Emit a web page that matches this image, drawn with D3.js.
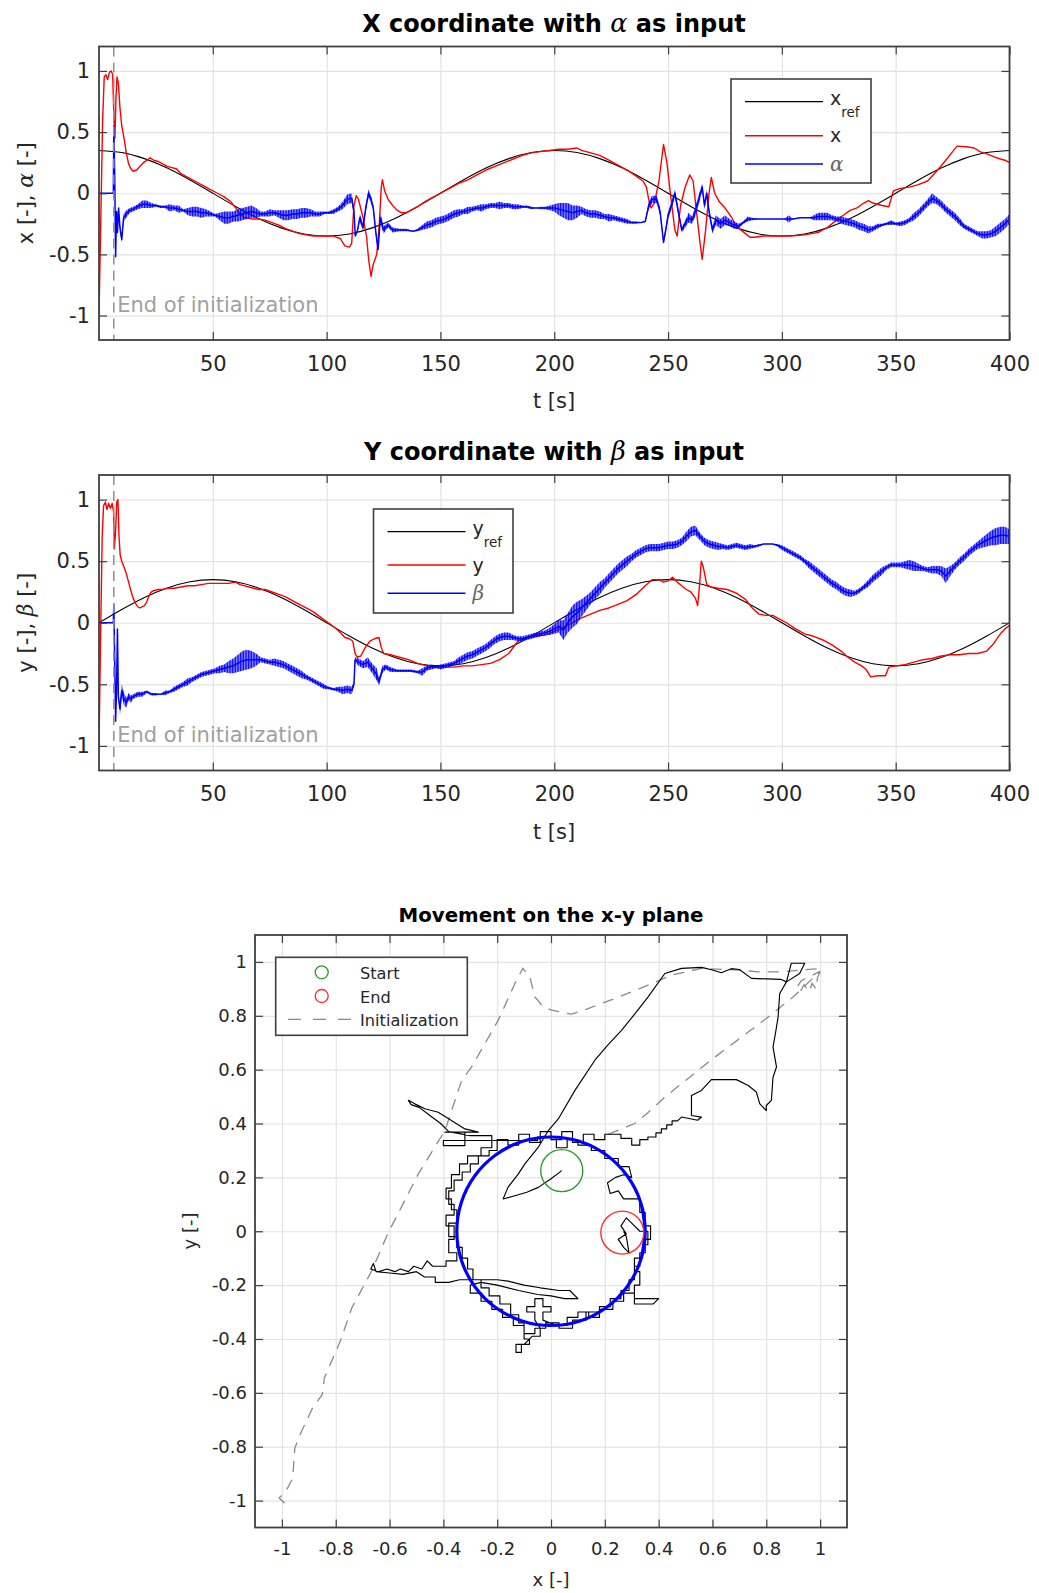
<!DOCTYPE html>
<html>
<head>
<meta charset="utf-8">
<script src="https://cdn.jsdelivr.net/npm/d3@7"></script>
<style>
  body { margin: 0; background: #fff; }
  svg { display: block; }
</style>
</head>
<body>
<script>
// ---------------------------------------------------------------------------
// Data
// ---------------------------------------------------------------------------
const tTicks = [50, 100, 150, 200, 250, 300, 350, 400];
const vTicks = [-1, -0.5, 0, 0.5, 1];
const planeTicks = [-1, -0.8, -0.6, -0.4, -0.2, 0, 0.2, 0.4, 0.6, 0.8, 1];
const tInitEnd = 6.5;

// reference trajectory, sampled every 10 s
const tRef = d3.range(0, 401, 10);
const xRef = [0.35, 0.333, 0.283, 0.206, 0.108, 0, -0.108, -0.206, -0.283, -0.333,
  -0.35, -0.333, -0.283, -0.206, -0.108, 0, 0.108, 0.206, 0.283, 0.333,
  0.35, 0.333, 0.283, 0.206, 0.108, 0, -0.108, -0.206, -0.283, -0.333,
  -0.35, -0.333, -0.283, -0.206, -0.108, 0, 0.108, 0.206, 0.283, 0.333, 0.35];
const yRef = [0, 0.108, 0.206, 0.283, 0.333, 0.35, 0.333, 0.283, 0.206, 0.108,
  0, -0.108, -0.206, -0.283, -0.333, -0.35, -0.333, -0.283, -0.206, -0.108,
  0, 0.108, 0.206, 0.283, 0.333, 0.35, 0.333, 0.283, 0.206, 0.108,
  0, -0.108, -0.206, -0.283, -0.333, -0.35, -0.333, -0.283, -0.206, -0.108, 0];

// measured x position [t, x]
const xMeas = [[0,-1],[0.8,-0.2],[1.6,0.6],[2.3,0.95],[3,0.97],[3.8,0.93],[4.6,0.99],[5.4,1.0],[6,0.97],[6.6,0.6],[7,0.45],[7.5,0.8],[7.9,0.95],[8.5,0.9],[9.2,0.7],[10,0.55],[11,0.45],[12,0.33],[13,0.24],[14,0.2],[15,0.18],[16.5,0.19],[18,0.22],[19.5,0.25],[21,0.27],[22.5,0.29],[24,0.27],[26,0.26],[28,0.24],[30,0.22],[32,0.21],[34,0.2],[36,0.16],[38,0.14],[40,0.12],[43,0.09],[46,0.06],[49,0.03],[52,0.0],[55,-0.03],[58,-0.07],[60,-0.12],[62,-0.17],[64,-0.2],[67,-0.21],[70,-0.21],[73,-0.22],[76,-0.24],[79,-0.26],[82,-0.29],[85,-0.31],[88,-0.33],[91,-0.34],[94,-0.35],[97,-0.35],[100,-0.35],[103,-0.35],[106,-0.37],[108,-0.43],[110,-0.44],[111,-0.41],[112,-0.1],[113,-0.02],[114,-0.05],[116,-0.2],[117.5,-0.35],[118.5,-0.55],[119.5,-0.68],[120.5,-0.58],[122,-0.5],[123,-0.3],[124,0.05],[124.5,0.11],[125.5,0.02],[127,-0.05],[129,-0.1],[131,-0.14],[133,-0.16],[135,-0.16],[137,-0.14],[140,-0.11],[143,-0.07],[146,-0.04],[150,0.0],[154,0.04],[158,0.08],[162,0.11],[166,0.15],[170,0.19],[174,0.22],[178,0.25],[182,0.28],[186,0.31],[190,0.33],[194,0.34],[198,0.35],[202,0.36],[206,0.36],[210,0.37],[212,0.35],[216,0.33],[220,0.31],[224,0.27],[228,0.23],[232,0.19],[236,0.14],[239,0.1],[240.5,0.05],[241.5,-0.05],[242.5,-0.12],[244,-0.08],[246,0.1],[248,0.4],[249.5,0.25],[251,0.0],[253,-0.3],[254,-0.35],[255.5,-0.1],[257.5,0.05],[259.5,0.15],[261,0.1],[262.5,-0.15],[264,-0.4],[265,-0.54],[266.5,-0.3],[268,0.0],[269,0.13],[270.5,0.0],[272.5,-0.07],[275,-0.12],[278,-0.2],[280,-0.27],[282,-0.3],[284,-0.33],[286,-0.36],[288,-0.36],[292,-0.35],[298,-0.35],[304,-0.35],[310,-0.34],[316,-0.32],[320,-0.28],[324,-0.22],[327,-0.18],[330,-0.14],[333,-0.12],[336,-0.08],[338,-0.06],[340,-0.08],[344,-0.1],[347,-0.11],[349,0.02],[352,0.04],[356,0.05],[360,0.07],[364,0.1],[368,0.18],[372,0.27],[375,0.34],[377,0.385],[381,0.38],[384.5,0.37],[387,0.34],[390.4,0.32],[393,0.3],[396,0.28],[398,0.27],[400,0.25]];

// control input alpha [t, value, noise half-width]
const alphaIn = [[0,0,0],[6.3,0,0],[6.5,0.55,0],[6.9,0.15,0],[7.3,-0.52,0],[7.7,-0.15,0],[8.1,-0.32,0],[8.6,-0.12,0],[9.2,-0.28,0.03],[10,-0.38,0.02],[10.8,-0.2,0.03],[12,-0.17,0.03],[13.5,-0.14,0.02],[15,-0.13,0.02],[17,-0.11,0.02],[19,-0.09,0.03],[21,-0.09,0.03],[23,-0.1,0.02],[25,-0.1,0.01],[27,-0.11,0.01],[29,-0.11,0.01],[31,-0.12,0.03],[33,-0.12,0.02],[35,-0.13,0.03],[37,-0.14,0.01],[39,-0.15,0.03],[41,-0.15,0.04],[43,-0.15,0.04],[45,-0.16,0.04],[47,-0.16,0.03],[49,-0.17,0.02],[51,-0.18,0.01],[53,-0.19,0.03],[55,-0.2,0.05],[57,-0.2,0.05],[59,-0.19,0.04],[61,-0.18,0.05],[63,-0.17,0.05],[65,-0.16,0.05],[67,-0.15,0.05],[69,-0.16,0.04],[71,-0.17,0.02],[73,-0.17,0.02],[75,-0.16,0.03],[77,-0.16,0.02],[79,-0.17,0.03],[81,-0.18,0.04],[83,-0.18,0.04],[85,-0.17,0.04],[87,-0.17,0.04],[89,-0.16,0.04],[91,-0.16,0.04],[93,-0.16,0.03],[95,-0.17,0.02],[97,-0.17,0.02],[99,-0.16,0.01],[101,-0.16,0.01],[103,-0.15,0.02],[105,-0.13,0.02],[107,-0.1,0.03],[109,-0.05,0.04],[111,-0.04,0.04],[112,-0.15,0.02],[112.6,-0.35,0],[113.6,-0.3,0.01],[114.6,-0.2,0.03],[116,-0.28,0.03],[117.2,-0.12,0.03],[118.4,0.0,0.03],[119.5,-0.05,0.03],[120.5,-0.12,0.03],[121.6,-0.32,0.03],[122.6,-0.46,0.02],[123.6,-0.2,0.04],[125,-0.3,0.03],[127,-0.26,0.02],[129,-0.3,0.02],[132,-0.3,0.01],[135,-0.3,0.01],[138,-0.31,0],[140,-0.3,0.01],[142,-0.28,0.02],[144,-0.26,0.03],[146,-0.25,0.03],[148,-0.23,0.03],[150,-0.22,0.03],[152,-0.21,0.03],[154,-0.19,0.03],[156,-0.17,0.03],[158,-0.16,0.03],[160,-0.15,0.02],[162,-0.14,0.03],[164,-0.13,0.02],[166,-0.12,0.02],[168,-0.12,0.03],[170,-0.11,0.02],[172,-0.1,0.02],[174,-0.1,0.02],[176,-0.1,0.03],[178,-0.1,0.02],[180,-0.1,0.02],[182,-0.11,0.02],[184,-0.11,0.02],[186,-0.11,0.01],[188,-0.11,0.01],[190,-0.12,0.01],[192,-0.12,0],[194,-0.12,0.01],[196,-0.12,0.01],[198,-0.12,0.02],[200,-0.12,0.03],[202,-0.13,0.05],[204,-0.14,0.06],[206,-0.15,0.07],[208,-0.16,0.06],[210,-0.15,0.05],[212,-0.14,0.03],[214,-0.16,0.03],[216,-0.17,0.03],[218,-0.17,0.03],[220,-0.18,0.03],[222,-0.19,0.02],[224,-0.2,0.03],[226,-0.2,0.02],[228,-0.21,0.02],[230,-0.22,0.02],[232,-0.23,0.02],[234,-0.24,0.01],[236,-0.24,0.01],[238,-0.24,0],[240,-0.23,0.01],[241.5,-0.1,0.03],[243,-0.05,0.03],[245,-0.05,0.03],[246.5,-0.15,0.03],[248,-0.4,0.02],[249,-0.3,0.03],[250,-0.18,0.03],[251.5,-0.1,0.03],[253,0,0.03],[254.5,-0.15,0.03],[256,-0.3,0.02],[257.5,-0.25,0.03],[259,-0.2,0.04],[260.5,-0.22,0.03],[262,-0.15,0.04],[263.5,-0.05,0.04],[265,0.05,0.03],[266,-0.1,0.03],[267,0,0.03],[268,-0.15,0.03],[269.5,-0.3,0.03],[271,-0.22,0.04],[273,-0.25,0.04],[275,-0.22,0.04],[277,-0.24,0.03],[279,-0.26,0.03],[281,-0.27,0.02],[283,-0.24,0.01],[285,-0.21,0.02],[287,-0.21,0.01],[290,-0.21,0],[294,-0.21,0],[298,-0.21,0],[301,-0.21,0],[303,-0.21,0.03],[305,-0.21,0],[308,-0.2,0],[312,-0.2,0],[314,-0.2,0.02],[316,-0.19,0.03],[318,-0.19,0.03],[320,-0.19,0.03],[322,-0.2,0.02],[324,-0.21,0.02],[326,-0.22,0.03],[328,-0.23,0.03],[330,-0.24,0.03],[332,-0.25,0.03],[334,-0.27,0.03],[336,-0.28,0.03],[338,-0.3,0.03],[340,-0.29,0.02],[342,-0.27,0.02],[344,-0.26,0.01],[346,-0.25,0.01],[348,-0.24,0.02],[350,-0.25,0.01],[352,-0.25,0.02],[354,-0.24,0.02],[356,-0.22,0.02],[358,-0.19,0.03],[360,-0.16,0.03],[362,-0.12,0.03],[364,-0.08,0.03],[366,-0.04,0.04],[368,-0.06,0.03],[370,-0.09,0.03],[372,-0.13,0.03],[374,-0.16,0.03],[376,-0.19,0.03],[378,-0.23,0.03],[380,-0.27,0.02],[382,-0.29,0.02],[384,-0.31,0.02],[386,-0.33,0.02],[388,-0.34,0.03],[390,-0.34,0.03],[392,-0.33,0.03],[394,-0.31,0.04],[396,-0.28,0.04],[398,-0.25,0.04],[400,-0.21,0.04]];

// measured y position [t, y]
const yMeas = [[0,-1],[0.7,-0.1],[1.4,0.7],[2,0.95],[2.8,0.98],[3.5,0.92],[4.2,0.97],[5,0.93],[5.8,0.97],[6.4,0.9],[6.8,0.6],[7.3,0.75],[7.8,0.98],[8.3,1.0],[8.8,0.7],[9.3,0.55],[10,0.5],[11,0.45],[12,0.4],[13,0.33],[14,0.26],[15,0.2],[16,0.16],[17,0.13],[18,0.12],[19,0.13],[20,0.14],[21,0.17],[22,0.22],[23,0.25],[24,0.26],[26,0.27],[28,0.27],[30,0.28],[33,0.28],[36,0.29],[39,0.3],[42,0.3],[45,0.31],[48,0.32],[51,0.32],[54,0.32],[57,0.32],[60,0.33],[62,0.31],[64,0.3],[66,0.29],[68,0.28],[70,0.27],[73,0.27],[76,0.25],[79,0.23],[82,0.21],[85,0.18],[88,0.15],[91,0.12],[94,0.09],[97,0.05],[100,0.01],[103,-0.03],[106,-0.08],[108,-0.12],[110,-0.13],[111.5,-0.15],[112.5,-0.25],[113.5,-0.28],[115,-0.27],[117,-0.2],[119,-0.15],[121,-0.13],[123,-0.12],[124,-0.2],[125,-0.25],[128,-0.26],[132,-0.28],[136,-0.3],[140,-0.33],[144,-0.35],[148,-0.36],[152,-0.36],[156,-0.36],[160,-0.35],[164,-0.35],[168,-0.34],[172,-0.33],[176,-0.3],[180,-0.25],[184,-0.15],[188,-0.12],[192,-0.11],[196,-0.1],[200,-0.07],[204,-0.04],[208,0.0],[212,0.04],[216,0.07],[220,0.1],[224,0.12],[228,0.15],[232,0.18],[236,0.23],[240,0.3],[243,0.35],[246,0.35],[248,0.33],[250,0.34],[252,0.37],[254,0.33],[256,0.3],[258,0.27],[260,0.25],[262,0.2],[263,0.14],[263.8,0.3],[264.6,0.5],[265.5,0.45],[267,0.31],[269,0.29],[272,0.28],[276,0.27],[280,0.24],[284,0.19],[287,0.12],[290,0.07],[293,0.06],[296,0.06],[299,0.03],[302,0.0],[306,-0.05],[310,-0.09],[314,-0.11],[318,-0.14],[322,-0.18],[326,-0.23],[329,-0.28],[332,-0.32],[335,-0.35],[337,-0.38],[339,-0.44],[342,-0.43],[345.5,-0.43],[347,-0.36],[350,-0.35],[354,-0.34],[358,-0.32],[362,-0.3],[366,-0.29],[370,-0.27],[374,-0.26],[378,-0.26],[382,-0.25],[386,-0.25],[390,-0.23],[393,-0.17],[396,-0.09],[398,-0.05],[400,-0.02]];

// control input beta [t, value, noise half-width]
const betaIn = [[0,0,0],[6.3,0,0],[6.5,0.15,0],[6.9,-0.3,0],[7.3,-0.8,0],[7.7,-0.55,0],[8.1,-0.05,0],[8.5,-0.6,0],[9.2,-0.7,0.05],[10,-0.55,0.05],[11,-0.62,0.05],[12,-0.65,0.04],[13,-0.6,0.03],[14,-0.62,0.03],[15,-0.6,0.02],[17,-0.58,0.02],[19,-0.58,0.02],[21,-0.56,0.01],[23,-0.58,0.01],[25,-0.58,0.01],[27,-0.58,0],[29,-0.57,0.02],[31,-0.56,0.01],[33,-0.54,0.02],[35,-0.52,0.02],[37,-0.5,0.02],[39,-0.48,0.03],[41,-0.46,0.02],[43,-0.44,0.02],[45,-0.42,0.02],[47,-0.41,0.02],[49,-0.4,0.02],[51,-0.39,0.02],[53,-0.38,0.03],[55,-0.37,0.03],[57,-0.36,0.05],[59,-0.35,0.06],[61,-0.33,0.07],[63,-0.31,0.08],[65,-0.3,0.08],[67,-0.3,0.07],[69,-0.3,0.05],[71,-0.3,0.02],[73,-0.31,0.02],[75,-0.32,0.02],[77,-0.32,0.03],[79,-0.33,0.03],[81,-0.34,0.03],[83,-0.36,0.03],[85,-0.38,0.03],[87,-0.4,0.03],[89,-0.42,0.03],[91,-0.44,0.02],[93,-0.46,0.02],[95,-0.48,0.02],[97,-0.5,0.02],[99,-0.52,0.02],[101,-0.53,0.01],[103,-0.54,0.01],[105,-0.54,0.02],[107,-0.55,0.03],[109,-0.54,0.03],[111,-0.55,0.03],[112,-0.5,0.02],[112.5,-0.3,0.02],[114,-0.32,0.03],[116,-0.34,0.03],[118,-0.32,0.04],[120,-0.37,0.04],[122,-0.42,0.05],[123,-0.48,0.03],[124.5,-0.38,0.03],[126,-0.36,0.02],[128,-0.38,0.02],[131,-0.39,0.01],[134,-0.39,0.01],[137,-0.39,0.01],[140,-0.4,0.01],[142,-0.4,0.03],[144,-0.37,0.02],[146,-0.36,0.02],[148,-0.36,0.01],[150,-0.36,0.02],[152,-0.35,0.02],[154,-0.34,0.02],[156,-0.33,0.02],[158,-0.31,0.03],[160,-0.29,0.03],[162,-0.27,0.03],[164,-0.26,0.03],[166,-0.24,0.03],[168,-0.22,0.03],[170,-0.2,0.03],[172,-0.17,0.03],[174,-0.14,0.03],[176,-0.12,0.03],[178,-0.11,0.03],[180,-0.11,0.03],[182,-0.12,0.02],[184,-0.13,0.02],[186,-0.13,0.02],[188,-0.12,0.02],[190,-0.11,0.02],[192,-0.1,0.02],[194,-0.09,0.02],[196,-0.08,0.02],[198,-0.07,0.03],[200,-0.05,0.04],[202,-0.03,0.05],[204,-0.06,0.08],[206,0.0,0.08],[208,0.05,0.09],[210,0.08,0.09],[212,0.12,0.07],[214,0.16,0.06],[216,0.2,0.05],[218,0.24,0.05],[220,0.28,0.05],[222,0.32,0.04],[224,0.36,0.04],[226,0.4,0.04],[228,0.44,0.04],[230,0.47,0.04],[232,0.5,0.04],[234,0.53,0.03],[236,0.56,0.03],[238,0.58,0.03],[240,0.6,0.03],[242,0.61,0.03],[244,0.61,0.03],[246,0.61,0.03],[248,0.62,0.03],[250,0.63,0.03],[252,0.63,0.03],[254,0.64,0.03],[256,0.66,0.03],[258,0.7,0.04],[260,0.74,0.04],[262,0.75,0.04],[264,0.7,0.03],[266,0.66,0.03],[268,0.64,0.03],[270,0.63,0.03],[272,0.62,0.03],[274,0.62,0.02],[276,0.61,0.02],[278,0.62,0.02],[280,0.63,0.02],[282,0.62,0.02],[284,0.61,0.02],[286,0.62,0.02],[288,0.62,0.01],[290,0.63,0.01],[292,0.64,0],[294,0.64,0],[296,0.64,0],[298,0.63,0.01],[300,0.61,0.02],[302,0.59,0.02],[304,0.57,0.02],[306,0.55,0.02],[308,0.53,0.02],[310,0.5,0.02],[312,0.47,0.03],[314,0.44,0.03],[316,0.41,0.03],[318,0.38,0.03],[320,0.35,0.03],[322,0.32,0.03],[324,0.3,0.03],[326,0.27,0.03],[328,0.25,0.03],[330,0.24,0.03],[332,0.24,0.02],[334,0.26,0.02],[336,0.29,0.02],[338,0.32,0.03],[340,0.36,0.03],[342,0.39,0.03],[344,0.42,0.03],[346,0.45,0.02],[348,0.47,0.02],[350,0.47,0.02],[352,0.47,0.02],[354,0.47,0.03],[356,0.47,0.04],[358,0.46,0.04],[360,0.45,0.03],[362,0.44,0.02],[364,0.43,0.02],[366,0.43,0.03],[368,0.43,0.03],[370,0.42,0.04],[372,0.38,0.06],[374,0.42,0.04],[376,0.46,0.03],[378,0.5,0.03],[380,0.53,0.03],[382,0.57,0.03],[384,0.6,0.03],[386,0.63,0.03],[388,0.65,0.04],[390,0.67,0.05],[392,0.69,0.06],[394,0.7,0.07],[396,0.71,0.07],[398,0.71,0.07],[400,0.7,0.06]];

// path on the x-y plane after initialization [x, y]
const pathXY = [[0.04,0.225],[0.0,0.195],[-0.047,0.163],[-0.09,0.145],[-0.134,0.132],[-0.178,0.12],[-0.16,0.163],[-0.122,0.212],[-0.097,0.25],[-0.047,0.312],[-0.01,0.374],[0.027,0.417],[0.089,0.523],[0.163,0.635],[0.21,0.69],[0.262,0.746],[0.31,0.805],[0.361,0.87],[0.423,0.957],[0.485,0.976],[0.56,0.98],[0.6,0.97],[0.633,0.96],[0.67,0.975],[0.7,0.972],[0.745,0.939],[0.8,0.937],[0.856,0.935],[0.875,0.926],[0.893,0.995],[0.943,0.995],[0.924,0.957],[0.875,0.926],[0.85,0.883],[0.844,0.796],[0.835,0.74],[0.825,0.684],[0.838,0.61],[0.825,0.572],[0.819,0.486],[0.8,0.467],[0.8,0.448],[0.776,0.473],[0.763,0.517],[0.733,0.541],[0.689,0.563],[0.596,0.563],[0.559,0.523],[0.522,0.504],[0.522,0.43],[0.559,0.424],[0.545,0.412],[0.485,0.424],[0.47,0.41],[0.45,0.41],[0.45,0.395],[0.43,0.395],[0.43,0.38],[0.41,0.38],[0.41,0.365],[0.39,0.365],[0.39,0.35],[0.36,0.35],[0.36,0.34],[0.33,0.34],[0.33,0.32],[0.3,0.32],[0.3,0.345],[0.26,0.345],[0.26,0.36],[0.2,0.36],[0.2,0.34],[0.16,0.34],[0.16,0.36],[0.12,0.36],[0.12,0.33],[0.08,0.33],[0.08,0.37],[0.04,0.37],[0.04,0.34],[0.0,0.34],[0.0,0.37],[-0.04,0.37],[-0.04,0.33],[-0.08,0.33],[-0.08,0.36],[-0.12,0.36],[-0.12,0.32],[-0.16,0.32],[-0.16,0.34],[-0.2,0.34],[-0.2,0.3],[-0.23,0.3],[-0.23,0.28],[-0.27,0.28],[-0.27,0.25],[-0.3,0.25],[-0.3,0.22],[-0.33,0.22],[-0.33,0.19],[-0.36,0.19],[-0.36,0.15],[-0.38,0.15],[-0.38,0.1],[-0.36,0.1],[-0.36,0.06],[-0.39,0.06],[-0.39,0.02],[-0.36,0.02],[-0.36,-0.03],[-0.38,-0.03],[-0.38,-0.08],[-0.35,-0.08],[-0.35,-0.11],[-0.39,-0.11],[-0.39,-0.13],[-0.44,-0.13],[-0.46,-0.11],[-0.48,-0.14],[-0.51,-0.13],[-0.53,-0.15],[-0.56,-0.14],[-0.58,-0.15],[-0.61,-0.14],[-0.64,-0.15],[-0.67,-0.14],[-0.66,-0.12],[-0.65,-0.15],[-0.6,-0.155],[-0.55,-0.16],[-0.5,-0.15],[-0.47,-0.17],[-0.43,-0.17],[-0.43,-0.19],[-0.38,-0.19],[-0.34,-0.18],[-0.28,-0.18],[-0.2,-0.18],[-0.16,-0.185],[-0.1,-0.2],[-0.04,-0.21],[0.03,-0.22],[0.07,-0.22],[0.1,-0.25],[0.05,-0.25],[0.0,-0.24],[-0.05,-0.235],[-0.12,-0.22],[-0.2,-0.2],[-0.26,-0.19],[-0.3,-0.2],[-0.3,-0.23],[-0.26,-0.23],[-0.26,-0.26],[-0.22,-0.26],[-0.22,-0.29],[-0.18,-0.29],[-0.18,-0.32],[-0.14,-0.32],[-0.14,-0.35],[-0.1,-0.35],[-0.1,-0.38],[-0.06,-0.38],[-0.06,-0.36],[-0.02,-0.36],[-0.02,-0.34],[0.03,-0.34],[0.03,-0.36],[0.08,-0.36],[0.08,-0.33],[0.13,-0.33],[0.13,-0.3],[0.18,-0.3],[0.18,-0.28],[0.22,-0.28],[0.22,-0.25],[0.26,-0.25],[0.26,-0.22],[0.29,-0.22],[0.29,-0.18],[0.31,-0.18],[0.31,-0.13],[0.33,-0.13],[0.33,-0.08],[0.35,-0.08],[0.35,-0.03],[0.37,-0.03],[0.37,0.02],[0.35,0.02],[0.35,0.07],[0.33,0.07],[0.33,0.12],[0.27,0.12],[0.25,0.15],[0.22,0.14],[0.21,0.18],[0.24,0.2],[0.27,0.21],[0.3,0.2],[0.29,0.24],[0.25,0.24],[0.25,0.27],[0.2,0.27],[0.2,0.3],[0.15,0.3],[0.15,0.32],[0.1,0.32],[0.1,0.34],[0.06,0.34],[0.06,0.31],[0.02,0.31],[0.02,0.35],[-0.05,0.35],[-0.05,0.337],[-0.25,0.337],[-0.4,0.337],[-0.4,0.318],[-0.32,0.318],[-0.32,0.368],[-0.394,0.368],[-0.27,0.368],[-0.32,0.38],[-0.37,0.411],[-0.419,0.442],[-0.469,0.455],[-0.506,0.473],[-0.53,0.486],[-0.52,0.47],[-0.49,0.46],[-0.45,0.43],[-0.41,0.4],[-0.38,0.37],[-0.3,0.355],[-0.22,0.355],[-0.22,0.31],[-0.26,0.31],[-0.26,0.28],[-0.31,0.28],[-0.31,0.25],[-0.34,0.25],[-0.34,0.21],[-0.37,0.21],[-0.37,0.16],[-0.39,0.16],[-0.39,0.12],[-0.37,0.12],[-0.37,0.08],[-0.35,0.08],[-0.35,0.03],[-0.38,0.03],[-0.38,-0.02],[-0.35,-0.02],[-0.35,-0.06],[-0.33,-0.06],[-0.33,-0.1],[-0.31,-0.1],[-0.31,-0.14],[-0.29,-0.14],[-0.29,-0.18],[-0.26,-0.18],[-0.26,-0.21],[-0.23,-0.21],[-0.23,-0.24],[-0.19,-0.24],[-0.19,-0.27],[-0.15,-0.27],[-0.15,-0.31],[-0.12,-0.31],[-0.12,-0.34],[-0.1,-0.34],[-0.1,-0.4],[-0.08,-0.4],[-0.08,-0.42],[-0.11,-0.42],[-0.11,-0.45],[-0.13,-0.45],[-0.13,-0.42],[-0.1,-0.42],[-0.07,-0.39],[-0.04,-0.39],[-0.04,-0.36],[-0.06,-0.33],[-0.06,-0.3],[-0.09,-0.3],[-0.09,-0.28],[-0.06,-0.28],[-0.06,-0.25],[-0.03,-0.25],[-0.03,-0.28],[0.0,-0.28],[0.0,-0.3],[-0.03,-0.3],[-0.03,-0.33],[0.02,-0.35],[0.06,-0.35],[0.06,-0.32],[0.1,-0.32],[0.1,-0.3],[0.14,-0.3],[0.14,-0.32],[0.18,-0.32],[0.18,-0.29],[0.23,-0.29],[0.23,-0.26],[0.27,-0.26],[0.27,-0.23],[0.31,-0.23],[0.31,-0.25],[0.4,-0.25],[0.38,-0.27],[0.31,-0.27],[0.31,-0.2],[0.33,-0.2],[0.33,-0.15],[0.31,-0.15],[0.31,-0.1],[0.34,-0.1],[0.34,-0.05],[0.36,-0.05],[0.36,0.0],[0.33,0.0],[0.3,0.03],[0.28,0.05],[0.26,0.02],[0.28,-0.01],[0.25,-0.03],[0.27,-0.06],[0.29,-0.08],[0.28,-0.02],[0.27,0.0]];

// path during initialization [x, y]
const initXY = [[-0.99,-1.01],[-1.01,-0.99],[-0.985,-0.965],[-0.96,-0.917],[-0.952,-0.805],[-0.93,-0.749],[-0.886,-0.656],[-0.85,-0.606],[-0.842,-0.544],[-0.783,-0.408],[-0.74,-0.284],[-0.666,-0.147],[-0.607,-0.01],[-0.493,0.213],[-0.394,0.374],[-0.332,0.56],[-0.295,0.61],[-0.196,0.784],[-0.134,0.92],[-0.105,0.976],[-0.079,0.945],[-0.06,0.87],[-0.03,0.835],[0.002,0.821],[0.076,0.806],[0.138,0.827],[0.237,0.864],[0.361,0.914],[0.448,0.951],[0.559,0.976],[0.695,0.97],[0.77,0.963],[0.856,0.963],[0.93,0.97],[1.005,0.976],[0.99,0.94],[0.985,0.9],[0.97,0.92],[0.96,0.89],[0.94,0.915],[0.93,0.895],[0.91,0.9],[0.93,0.93],[0.96,0.945],[1.0,0.965],[0.9,0.87],[0.8,0.79],[0.7,0.715],[0.6,0.64],[0.5,0.56],[0.423,0.498],[0.36,0.44],[0.311,0.4],[0.262,0.38],[0.2,0.355]];

const startXY = [0.04, 0.225];
const endXY = [0.265, -0.005];

// ---------------------------------------------------------------------------
// Drawing
// ---------------------------------------------------------------------------
const FONT = '"DejaVu Sans", "Liberation Sans", sans-serif';
const GREEK = '"DejaVu Serif", "Liberation Serif", serif';
const INK = '#262626', FRAME = '#3f3f3f', GRID = '#e3e3e3';
const RED = '#ff0000', BLUE = '#0000ff';

const svg = d3.select('body').append('svg')
  .attr('width', 1039).attr('height', 1593)
  .style('font-family', FONT);

// dense vertical hatching used to render the jitter band of the input signals
const pat = svg.append('defs').append('pattern').attr('id', 'jitter')
  .attr('patternUnits', 'userSpaceOnUse').attr('width', 1.6).attr('height', 6);
pat.append('rect').attr('width', 1.15).attr('height', 6).attr('fill', BLUE);

const fmt = d => String(+d.toFixed(1));

function gridLayer(g, x, y, xt, yt) {
  const [xa, xb] = x.range(), [ya, yb] = y.range();
  const style = s => {
    s.select('.domain').remove();
    s.selectAll('line').attr('stroke', GRID).attr('stroke-width', 1.2);
  };
  g.append('g').attr('transform', `translate(0,${ya})`)
    .call(d3.axisBottom(x).tickValues(xt).tickSize(-(ya - yb)).tickFormat(''))
    .call(style);
  g.append('g').attr('transform', `translate(${xa},0)`)
    .call(d3.axisLeft(y).tickValues(yt).tickSize(-(xb - xa)).tickFormat(''))
    .call(style);
}

function frameLayer(g, x, y, xt, yt, fs, padX, padY) {
  const [xa, xb] = x.range(), [ya, yb] = y.range();
  const style = s => {
    s.select('.domain').remove();
    s.selectAll('line').attr('stroke', FRAME).attr('stroke-width', 1.2);
    s.selectAll('text').attr('fill', INK).style('font-size', fs + 'px').style('font-family', FONT);
  };
  g.append('g').attr('transform', `translate(0,${ya})`)
    .call(d3.axisBottom(x).tickValues(xt).tickSize(-8).tickPadding(padX).tickFormat(fmt)).call(style);
  g.append('g').attr('transform', `translate(0,${yb})`)
    .call(d3.axisTop(x).tickValues(xt).tickSize(-8).tickFormat('')).call(style);
  g.append('g').attr('transform', `translate(${xa},0)`)
    .call(d3.axisLeft(y).tickValues(yt).tickSize(-8).tickPadding(padY).tickFormat(fmt)).call(style);
  g.append('g').attr('transform', `translate(${xb},0)`)
    .call(d3.axisRight(y).tickValues(yt).tickSize(-8).tickFormat('')).call(style);
  g.append('rect').attr('x', xa).attr('y', yb).attr('width', xb - xa).attr('height', ya - yb)
    .attr('fill', 'none').attr('stroke', FRAME).attr('stroke-width', 1.8);
}

// text with an italic Greek symbol inside, e.g. "x [-], α [-]"
function mixedText(sel, parts, greekSize) {
  parts.forEach(p => {
    const ts = sel.append('tspan').text(p.t);
    if (p.greek) ts.style('font-family', GREEK).style('font-style', 'italic')
      .style('font-weight', 'normal').style('font-size', greekSize);
  });
  return sel;
}

function timePanel(p) {
  const x = d3.scaleLinear().domain([0, 400]).range([99, 1009.5]);
  const y = d3.scaleLinear().domain([-1.2, 1.2]).range([p.bottom, p.top]);
  const g = svg.append('g');
  gridLayer(g, x, y, tTicks, vTicks);

  g.append('clipPath').attr('id', 'clip-' + p.id).append('rect')
    .attr('x', 99).attr('y', p.top).attr('width', 910.5).attr('height', p.bottom - p.top);
  const plot = g.append('g').attr('clip-path', `url(#clip-${p.id})`);

  const line = d3.line().x(d => x(d[0])).y(d => y(d[1]));
  plot.append('path').datum(p.ref.map((v, i) => [tRef[i], v]))
    .attr('d', line.curve(d3.curveNatural)).attr('fill', 'none')
    .attr('stroke', '#000').attr('stroke-width', 1.1);
  line.curve(d3.curveLinear);
  plot.append('path').datum(p.meas).attr('d', line).attr('fill', 'none')
    .attr('stroke', RED).attr('stroke-width', 1.4).attr('stroke-linejoin', 'round');
  plot.append('path').datum(p.input)
    .attr('d', d3.area().x(d => x(d[0])).y0(d => y(d[1] - d[2])).y1(d => y(d[1] + d[2])))
    .attr('fill', 'url(#jitter)');
  plot.append('path').datum(p.input).attr('d', line).attr('fill', 'none')
    .attr('stroke', BLUE).attr('stroke-width', 1.5).attr('stroke-linejoin', 'round');

  // end of initialization marker
  g.append('line').attr('x1', x(tInitEnd)).attr('x2', x(tInitEnd))
    .attr('y1', p.top).attr('y2', p.bottom)
    .attr('stroke', '#8f8f8f').attr('stroke-width', 1.5).attr('stroke-dasharray', '10,6');
  g.append('text').attr('x', x(tInitEnd) + 3.5).attr('y', p.bottom - 28.5)
    .attr('fill', '#a0a0a0').style('font-size', '21px').text('End of initialization');

  frameLayer(g, x, y, tTicks, vTicks, 21, 16, 9);

  // title and axis labels
  mixedText(g.append('text').attr('x', 554).attr('y', p.top - 15)
    .attr('text-anchor', 'middle').attr('fill', '#000')
    .style('font-size', '24px').style('font-weight', 'bold'), p.title, '25.5px');
  g.append('text').attr('x', 554).attr('y', p.bottom + 68).attr('text-anchor', 'middle')
    .attr('fill', INK).style('font-size', '21px').text('t [s]');
  mixedText(g.append('text')
    .attr('transform', `translate(33,${(p.top + p.bottom) / 2}) rotate(-90)`)
    .attr('text-anchor', 'middle').attr('fill', INK).style('font-size', '21px'), p.ylab, '22px');

  // legend
  const L = p.legend;
  const lg = g.append('g');
  lg.append('rect').attr('x', L.x).attr('y', L.y).attr('width', L.w).attr('height', L.h)
    .attr('fill', '#fff').attr('stroke', FRAME).attr('stroke-width', 1.6);
  const colors = ['#000', RED, BLUE];
  p.names.forEach((n, i) => {
    const ly = L.rows[i];
    lg.append('line').attr('x1', L.x + 14).attr('x2', L.x + 92).attr('y1', ly).attr('y2', ly)
      .attr('stroke', colors[i]).attr('stroke-width', i === 0 ? 1.3 : 1.5);
    const t = lg.append('text').attr('x', L.x + 99).attr('fill', INK).style('font-size', '19px');
    if (n.sub) {
      t.attr('y', ly + 3.5).text(n.t);
      t.append('tspan').attr('dy', 11.5).style('font-size', '13.5px').text(n.sub);
    } else if (n.greek) {
      t.attr('y', ly + 6.5).attr('fill', '#666').style('font-family', GREEK)
        .style('font-style', 'italic').style('font-size', '20px').text(n.t);
    } else {
      t.attr('y', ly + 6.5).text(n.t);
    }
  });
}

timePanel({
  id: 'x', top: 46.5, bottom: 340,
  ref: xRef, meas: xMeas, input: alphaIn,
  title: [{ t: 'X coordinate with ' }, { t: 'α', greek: true }, { t: ' as input' }],
  ylab: [{ t: 'x [-], ' }, { t: 'α', greek: true }, { t: ' [-]' }],
  names: [{ t: 'x', sub: 'ref' }, { t: 'x' }, { t: 'α', greek: true }],
  legend: { x: 731, y: 79, w: 140, h: 104, rows: [101.7, 135.7, 164] }
});

timePanel({
  id: 'y', top: 475, bottom: 770.5,
  ref: yRef, meas: yMeas, input: betaIn,
  title: [{ t: 'Y coordinate with ' }, { t: 'β', greek: true }, { t: ' as input' }],
  ylab: [{ t: 'y [-], ' }, { t: 'β', greek: true }, { t: ' [-]' }],
  names: [{ t: 'y', sub: 'ref' }, { t: 'y' }, { t: 'β', greek: true }],
  legend: { x: 373.5, y: 509, w: 139.5, h: 104, rows: [531.7, 565, 593.3] }
});

// ---------------------------------------------------------------------------
// Movement on the x-y plane
// ---------------------------------------------------------------------------
(function planePanel() {
  const x = d3.scaleLinear().domain([-1.1, 1.1]).range([255, 847]);
  const y = d3.scaleLinear().domain([-1.1, 1.1]).range([1527.5, 935]);
  const g = svg.append('g');
  gridLayer(g, x, y, planeTicks, planeTicks);

  g.append('clipPath').attr('id', 'clip-plane').append('rect')
    .attr('x', 255).attr('y', 935).attr('width', 592).attr('height', 592.5);
  const plot = g.append('g').attr('clip-path', 'url(#clip-plane)');
  const line = d3.line().x(d => x(d[0])).y(d => y(d[1]));

  plot.append('path').datum(initXY).attr('d', line).attr('fill', 'none')
    .attr('stroke', '#8a8a8a').attr('stroke-width', 1.3).attr('stroke-dasharray', '11,8');
  plot.append('path').datum(pathXY).attr('d', line).attr('fill', 'none')
    .attr('stroke', '#000').attr('stroke-width', 1.15).attr('stroke-linejoin', 'round');
  // reference circle from the x/y reference signals
  plot.append('path').datum(xRef.map((v, i) => [v, yRef[i]]))
    .attr('d', d3.line().x(d => x(d[0])).y(d => y(d[1])).curve(d3.curveCatmullRom))
    .attr('fill', 'none').attr('stroke', BLUE).attr('stroke-width', 3.2);
  plot.append('circle').attr('cx', x(startXY[0])).attr('cy', y(startXY[1])).attr('r', 21)
    .attr('fill', 'none').attr('stroke', '#2e9a2e').attr('stroke-width', 1.4);
  plot.append('circle').attr('cx', x(endXY[0])).attr('cy', y(endXY[1])).attr('r', 21.5)
    .attr('fill', 'none').attr('stroke', '#ff2a2a').attr('stroke-width', 1.4);

  frameLayer(g, x, y, planeTicks, planeTicks, 18, 15, 8);

  g.append('text').attr('x', 551).attr('y', 921.5).attr('text-anchor', 'middle')
    .attr('fill', '#000').style('font-size', '19.8px').style('font-weight', 'bold')
    .text('Movement on the x-y plane');
  g.append('text').attr('x', 551).attr('y', 1586).attr('text-anchor', 'middle')
    .attr('fill', INK).style('font-size', '18px').text('x [-]');
  g.append('text').attr('transform', 'translate(196,1231) rotate(-90)')
    .attr('text-anchor', 'middle').attr('fill', INK).style('font-size', '18px').text('y [-]');

  // legend
  const lg = g.append('g');
  lg.append('rect').attr('x', 275.7).attr('y', 957.3).attr('width', 191.6).attr('height', 78)
    .attr('fill', '#fff').attr('stroke', FRAME).attr('stroke-width', 1.6);
  lg.append('circle').attr('cx', 321.7).attr('cy', 972.3).attr('r', 6.5)
    .attr('fill', 'none').attr('stroke', '#2e9a2e').attr('stroke-width', 1.3);
  lg.append('circle').attr('cx', 321.7).attr('cy', 996).attr('r', 6.5)
    .attr('fill', 'none').attr('stroke', '#ff2a2a').attr('stroke-width', 1.3);
  lg.append('line').attr('x1', 288).attr('x2', 353).attr('y1', 1019.3).attr('y2', 1019.3)
    .attr('stroke', '#8a8a8a').attr('stroke-width', 1.3).attr('stroke-dasharray', '13,12');
  [['Start', 972.3], ['End', 996], ['Initialization', 1019.3]].forEach(([s, yy]) => {
    lg.append('text').attr('x', 360).attr('y', yy + 7).attr('fill', INK)
      .style('font-size', '16.2px').text(s);
  });
})();
</script>
</body>
</html>
